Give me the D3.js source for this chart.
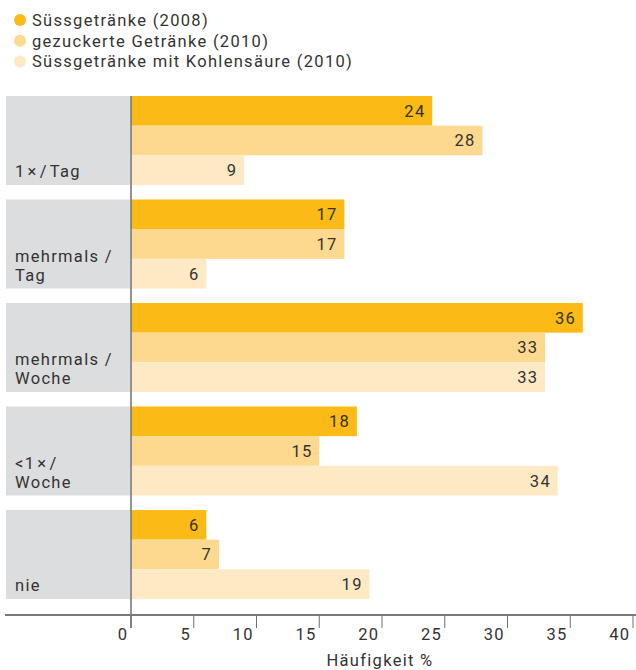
<!DOCTYPE html>
<html>
<head>
<meta charset="utf-8">
<script src="https://cdn.jsdelivr.net/npm/d3@7"></script>
<style>
  html, body { margin: 0; padding: 0; background: #fff; }
  svg text { font-family: Roboto, "Noto Sans", sans-serif; fill: #333; font-size: 16.5px; letter-spacing: 1.3px; }
</style>
</head>
<body>
<svg id="chart" width="636" height="670"></svg>
<script>
// Frequency categories (label lines) and series
const categories = ["1×/Tag", "mehrmals/Tag", "mehrmals/Woche", "<1×/Woche", "nie"];
const categoryLines = [["1\u2009×\u2009/\u2009Tag"], ["mehrmals /", "Tag"], ["mehrmals /", "Woche"], ["<1\u2009×\u2009/", "Woche"], ["nie"]];
const seriesNames = ["Süssgetränke (2008)", "gezuckerte Getränke (2010)", "Süssgetränke mit Kohlensäure (2010)"];
const seriesColors = ["#fbba16", "#fdd88f", "#fee9c5"];

// Values per series, in category order (Häufigkeit %)
const sweet2008 = [24, 17, 36, 18, 6];
const sugared2010 = [28, 17, 33, 15, 7];
const carbonated2010 = [9, 6, 33, 34, 19];
const seriesValues = [sweet2008, sugared2010, carbonated2010];

const xTicks = [0, 5, 10, 15, 20, 25, 30, 35, 40];
const axisTitle = "Häufigkeit %";

const svg = d3.select("#chart");
const ls = 1.3; // trailing letter-spacing offset for end-anchored text

const x0 = 131;
const x = d3.scaleLinear().domain([0, 40]).range([x0, x0 + 40 * 12.55]);
const y = d3.scaleBand().domain(categories).range([96, 599]).paddingInner(0.14).paddingOuter(0);
const ySub = d3.scaleBand().domain(d3.range(seriesNames.length)).range([0, y.bandwidth()]);

// Legend
const legend = svg.append("g");
seriesNames.forEach((name, i) => {
  const ly = 20 + i * 20.7;
  legend.append("circle").attr("cx", 20).attr("cy", ly).attr("r", 6).attr("fill", seriesColors[i]);
  legend.append("text").attr("x", 32).attr("y", ly).attr("dy", "0.36em").text(name);
});

// Category blocks with labels; thin-space separated parts get a small fixed gap
categories.forEach((c, ci) => {
  const top = y(c), h = y.bandwidth();
  svg.append("rect").attr("x", 6).attr("y", top).attr("width", x0 - 1 - 6).attr("height", h)
    .attr("fill", "#dcdddf");
  const lines = categoryLines[ci];
  lines.forEach((ln, li) => {
    const t = svg.append("text").attr("x", 15)
      .attr("y", top + h - 8 - (lines.length - 1 - li) * 19);
    ln.split("\u2009").forEach((part, pi) => {
      t.append("tspan").attr("dx", pi === 0 ? 0 : 2).text(part);
    });
  });
});

// Bars with value labels
categories.forEach((c, ci) => {
  seriesValues.forEach((vals, si) => {
    const v = vals[ci];
    const by = y(c) + ySub(si);
    const bh = ySub.bandwidth();
    svg.append("rect").attr("x", x(0)).attr("y", by)
      .attr("width", x(v) - x(0)).attr("height", bh).attr("fill", seriesColors[si]);
    svg.append("text").attr("x", x(v) - 8 + ls).attr("y", by + bh / 2).attr("dy", "0.36em")
      .attr("text-anchor", "end").text(v);
  });
});

// Axes
const axisY = 615;
svg.append("line").attr("x1", x0).attr("x2", x0).attr("y1", 96).attr("y2", 628)
  .attr("stroke", "#6f6f6f").attr("stroke-width", 1.5);
svg.append("line").attr("x1", 5).attr("x2", 636).attr("y1", axisY).attr("y2", axisY)
  .attr("stroke", "#7a7a7a").attr("stroke-width", 2);

const ticks = svg.append("g");
xTicks.forEach(t => {
  ticks.append("line").attr("x1", x(t)).attr("x2", x(t)).attr("y1", axisY).attr("y2", 628)
    .attr("stroke", "#6f6f6f").attr("stroke-width", 1);
  ticks.append("text").attr("x", x(t) - 4 + ls).attr("y", 640).attr("text-anchor", "end")
    .text(t);
});

svg.append("text").attr("x", 380).attr("y", 666).attr("text-anchor", "middle")
  .text(axisTitle);
</script>
</body>
</html>
